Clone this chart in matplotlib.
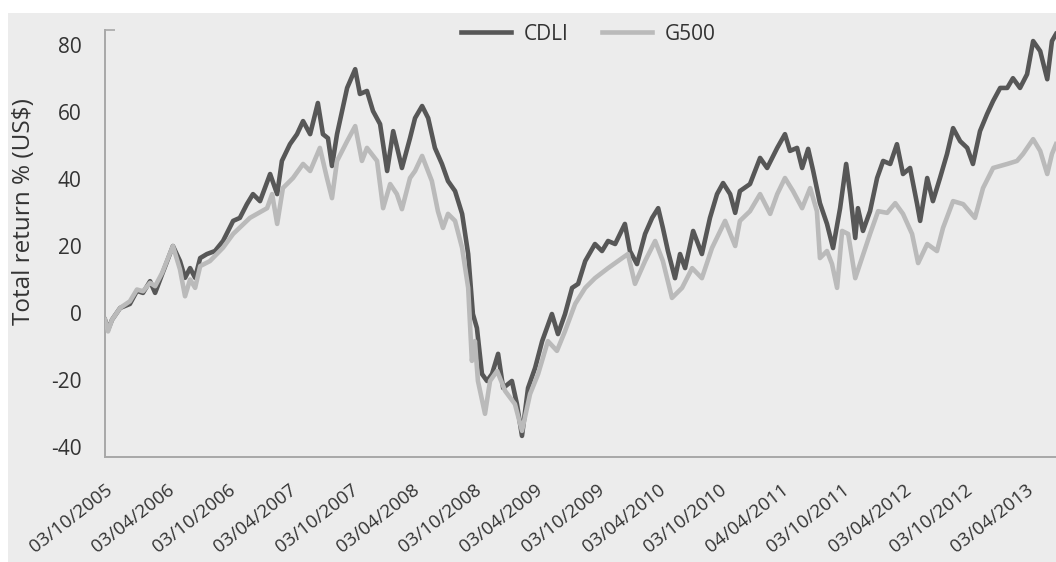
"""
CDLI vs G500 total return chart (weekly, Oct 2005 - mid 2013).
"""

import numpy as np
import pandas as pd
import matplotlib
matplotlib.use("Agg")
import matplotlib.pyplot as plt
from matplotlib.patches import Rectangle

plt.rcParams["font.family"] = ["Open Sans", "DejaVu Sans"]

# ─────────────────────────────────────────────────────────────────────────────
# Data
cdli_dates = [
    "2005-10-03", "2005-10-12", "2005-10-24", "2005-11-17", "2005-12-16",
    "2006-01-06", "2006-01-24", "2006-02-14", "2006-03-01", "2006-03-22",
    "2006-04-23", "2006-05-14", "2006-05-29", "2006-06-13", "2006-06-28",
    "2006-07-13", "2006-08-02", "2006-08-26", "2006-09-19", "2006-10-19",
    "2006-11-08", "2006-11-29", "2006-12-17", "2007-01-07", "2007-02-06",
    "2007-02-27", "2007-03-13", "2007-04-06", "2007-04-27", "2007-05-15",
    "2007-06-05", "2007-06-28", "2007-07-13", "2007-07-28", "2007-08-09",
    "2007-08-24", "2007-09-23", "2007-10-17", "2007-10-31", "2007-11-21",
    "2007-12-09", "2007-12-30", "2008-01-20", "2008-02-07", "2008-03-04",
    "2008-03-28", "2008-04-12", "2008-05-03", "2008-05-21", "2008-06-10",
    "2008-07-01", "2008-07-19", "2008-08-09", "2008-08-30", "2008-09-17",
    "2008-10-01", "2008-10-13", "2008-10-28", "2008-11-12", "2008-11-27",
    "2008-12-15", "2008-12-30", "2009-01-25", "2009-02-09", "2009-02-24",
    "2009-03-14", "2009-04-04", "2009-04-25", "2009-05-24", "2009-06-11",
    "2009-07-02", "2009-07-23", "2009-08-10", "2009-08-31", "2009-09-29",
    "2009-10-20", "2009-11-07", "2009-11-28", "2009-12-27", "2010-01-11",
    "2010-02-01", "2010-02-25", "2010-03-18", "2010-04-05", "2010-04-19",
    "2010-05-04", "2010-05-25", "2010-06-09", "2010-06-24", "2010-07-18",
    "2010-08-13", "2010-09-06", "2010-09-27", "2010-10-15", "2010-11-05",
    "2010-11-20", "2010-12-04", "2011-01-03", "2011-02-02", "2011-02-23",
    "2011-03-25", "2011-04-17", "2011-05-02", "2011-05-23", "2011-06-07",
    "2011-06-25", "2011-07-10", "2011-07-30", "2011-08-20", "2011-09-07",
    "2011-09-28", "2011-10-16", "2011-10-28", "2011-11-12", "2011-11-20",
    "2011-12-05", "2011-12-26", "2012-01-16", "2012-02-03", "2012-02-24",
    "2012-03-15", "2012-04-02", "2012-04-23", "2012-05-14", "2012-05-23",
    "2012-06-13", "2012-06-30", "2012-07-21", "2012-08-11", "2012-08-29",
    "2012-09-19", "2012-10-10", "2012-10-27", "2012-11-17", "2012-12-08",
    "2012-12-26", "2013-01-16", "2013-02-06", "2013-02-23", "2013-03-16",
    "2013-04-06", "2013-04-24", "2013-05-15", "2013-06-05", "2013-06-19",
    "2013-07-01",
]
cdli_values = [
    -2, -5, -2, 1.5, 2.7,
    6.6, 6, 9.5, 6, 11.6,
    20, 15.5, 10.5, 13.4, 10.5,
    16.4, 17.6, 18.5, 21.5, 27.5,
    28.4, 32.5, 35.5, 33.4, 41.5,
    35.5, 45.4, 50.4, 53.4, 57.3,
    53.4, 62.7, 53.4, 52.2, 43.9,
    53.4, 67.2, 72.8, 65.4, 66.3,
    60.3, 56.4, 42.4, 54.3, 43.3,
    52.2, 58.2, 61.8, 58.2, 49.3,
    44.5, 39.4, 36.4, 29.6, 17.6,
    -0.3, -4.5, -18.2, -20.3, -18.2,
    -12.2, -22.4, -20.3, -27.2, -36.7,
    -22.4, -16.4, -8.4, -0.3, -6.3,
    -0.3, 7.5, 8.7, 15.5, 20.6,
    18.5, 21.5, 20.6, 26.6, 18.5,
    14.6, 23.6, 28.4, 31.3, 25.4,
    18.5, 10.4, 17.6, 13.4, 24.5,
    17.6, 28.4, 35.5, 38.8, 35.5,
    29.9, 36.4, 38.5, 46.3, 43.3,
    49.3, 53.4, 48.4, 49.3, 43.3,
    49, 42.4, 32.8, 26.6, 19.4,
    31.3, 44.5, 35.5, 22.4, 31.3,
    24.5, 30.4, 40.3, 45.4, 44.5,
    50.4, 41.5, 43.3, 32.5, 27.5,
    40.3, 33.4, 40.3, 47.5, 55.2,
    51.3, 49.3, 44.5, 54.3, 59.4,
    63.3, 67.2, 67.2, 70.1, 67.2,
    71.3, 81.2, 78.2, 69.8, 81.2,
    83.3,
]

g500_dates = [
    "2005-10-03", "2005-10-12", "2005-10-24", "2005-11-17", "2005-12-16",
    "2006-01-06", "2006-01-24", "2006-02-14", "2006-03-01", "2006-03-22",
    "2006-04-23", "2006-05-14", "2006-05-29", "2006-06-13", "2006-06-28",
    "2006-07-13", "2006-08-11", "2006-09-19", "2006-10-19", "2006-12-08",
    "2007-01-28", "2007-02-12", "2007-02-27", "2007-03-16", "2007-04-15",
    "2007-05-15", "2007-06-05", "2007-07-04", "2007-07-25", "2007-08-09",
    "2007-08-24", "2007-09-23", "2007-10-17", "2007-11-06", "2007-11-21",
    "2007-12-21", "2008-01-08", "2008-01-29", "2008-02-18", "2008-03-04",
    "2008-03-28", "2008-04-12", "2008-05-03", "2008-06-01", "2008-06-19",
    "2008-07-04", "2008-07-19", "2008-08-09", "2008-08-30", "2008-09-17",
    "2008-09-28", "2008-10-07", "2008-10-16", "2008-11-06", "2008-11-21",
    "2008-12-12", "2009-01-05", "2009-02-03", "2009-02-24", "2009-03-20",
    "2009-04-13", "2009-05-12", "2009-06-08", "2009-07-02", "2009-08-01",
    "2009-08-31", "2009-09-29", "2009-11-07", "2009-12-19", "2010-01-05",
    "2010-01-26", "2010-02-25", "2010-03-27", "2010-04-19", "2010-05-16",
    "2010-06-15", "2010-07-15", "2010-08-13", "2010-09-12", "2010-10-21",
    "2010-11-20", "2010-12-04", "2011-01-03", "2011-02-02", "2011-03-04",
    "2011-03-25", "2011-04-17", "2011-05-11", "2011-06-07", "2011-07-01",
    "2011-07-21", "2011-07-30", "2011-08-20", "2011-09-04", "2011-09-19",
    "2011-10-04", "2011-10-22", "2011-11-12", "2011-12-02", "2011-12-26",
    "2012-01-19", "2012-02-15", "2012-03-10", "2012-04-02", "2012-04-29",
    "2012-05-17", "2012-06-13", "2012-07-12", "2012-07-30", "2012-08-29",
    "2012-09-28", "2012-11-02", "2012-11-26", "2012-12-26", "2013-02-06",
    "2013-03-07", "2013-03-25", "2013-04-24", "2013-05-15", "2013-06-05",
    "2013-06-19", "2013-07-01",
]
g500_values = [
    -2, -5.5, -2, 1.5, 3.5,
    7, 6.5, 9, 8, 12,
    20, 13, 5, 10, 7.5,
    14, 15.5, 19.5, 23.6, 28.4,
    31.3, 35.5, 26.6, 37.3, 40.3,
    44.5, 42.4, 49.3, 40.3, 34.3,
    45.4, 51.3, 55.8, 45.4, 49.3,
    45.4, 31.3, 38.5, 35.5, 31,
    40.3, 42.4, 46.9, 39.4, 30.4,
    25.4, 29.6, 27.5, 19.4, 7.5,
    -14.3, -8.4, -20.3, -30.1, -20.3,
    -17.3, -23.3, -27.2, -35.2, -24.2,
    -18.2, -8.4, -11.3, -5.4, 2.7,
    7.5, 10.4, 13.4, 16.4, 17.6,
    8.7, 15.5, 21.5, 15.5, 4.5,
    7.5, 13.4, 10.4, 19.4, 27.5,
    20, 27.5, 30.4, 35.5, 29.6,
    35.5, 40.3, 36.4, 31.3, 37.3,
    30.4, 16.4, 18.5, 14.6, 7.5,
    24.5, 23.6, 10.4, 16.4, 23.6,
    30.4, 29.9, 32.8, 29.6, 23.6,
    14.9, 20.6, 18.5, 25.4, 33.4,
    32.5, 28.4, 37.3, 43.3, 44.5,
    45.4, 47.5, 51.9, 48.4, 41.5,
    47.5, 50.4,
]

tick_dates = [
    "2005-10-03", "2006-04-03", "2006-10-03", "2007-04-03", "2007-10-03",
    "2008-04-03", "2008-10-03", "2009-04-03", "2009-10-03", "2010-04-03",
    "2010-10-03", "2011-04-04", "2011-10-03", "2012-04-03", "2012-10-03",
    "2013-04-03",
]
tick_labels = [
    "03/10/2005", "03/04/2006", "03/10/2006", "03/04/2007", "03/10/2007",
    "03/04/2008", "03/10/2008", "03/04/2009", "03/10/2009", "03/04/2010",
    "03/10/2010", "04/04/2011", "03/10/2011", "03/04/2012", "03/10/2012",
    "03/04/2013",
]
y_ticks = [-40, -20, 0, 20, 40, 60, 80]

# ─────────────────────────────────────────────────────────────────────────────
BG = "#ececec"
DARK = "#575757"
LIGHT = "#bababa"
TEXT = "#333333"
SPINE = "#a8a8a8"

W, H = 1056, 562
fig = plt.figure(figsize=(W / 100, H / 100), dpi=100)
fig.patch.set_facecolor("white")
# grey panel, leaving a thin white strip at the top and left like the scan
fig.patches.append(Rectangle((8 / W, 0), 1 - 8 / W, 1 - 13 / H,
                             transform=fig.transFigure, facecolor=BG,
                             edgecolor="none", zorder=-10))

ax = fig.add_axes([105 / W, 1 - 457 / H, 1 - 105 / W, (457 - 30) / H])
ax.set_facecolor(BG)

ax.plot(pd.to_datetime(cdli_dates), cdli_values, color=DARK, lw=3.3,
        solid_joinstyle="round", label="CDLI", zorder=2)
ax.plot(pd.to_datetime(g500_dates), g500_values, color=LIGHT, lw=3.3,
        solid_joinstyle="round", label="G500", zorder=3)

ax.set_xlim(pd.Timestamp("2005-10-03"), pd.Timestamp("2013-07-01"))
ax.set_ylim(-43, 84.5)

ax.set_xticks(pd.to_datetime(tick_dates))
ax.set_xticklabels(tick_labels, rotation=38, ha="right", va="top",
                   rotation_mode="anchor", fontsize=13.5, color=TEXT)
ax.set_yticks(y_ticks)
ax.set_yticklabels([str(v) for v in y_ticks], fontsize=15, color=TEXT)
ax.tick_params(axis="x", length=0, pad=17)
ax.tick_params(axis="y", length=0, pad=17)

# small mark at the top of the value axis
ax.set_yticks([84.5], minor=True)
ax.tick_params(axis="y", which="minor", direction="in", length=7,
               width=1.2, color=SPINE)

for side in ("top", "right"):
    ax.spines[side].set_visible(False)
for side in ("left", "bottom"):
    ax.spines[side].set_color(SPINE)
    ax.spines[side].set_linewidth(1.4)

ax.set_ylabel("Total return % (US$)", fontsize=17.5, color=TEXT)
ax.yaxis.set_label_coords(-0.0726, 0.574)

ax.legend(loc="center", bbox_to_anchor=(0.508, 0.99), ncol=2,
          frameon=False, fontsize=15, handlelength=2.4, columnspacing=1.6,
          handletextpad=0.6, labelcolor=TEXT)

plt.savefig("out.png", dpi=100, facecolor=fig.get_facecolor())
plt.close()
print("saved out.png")
